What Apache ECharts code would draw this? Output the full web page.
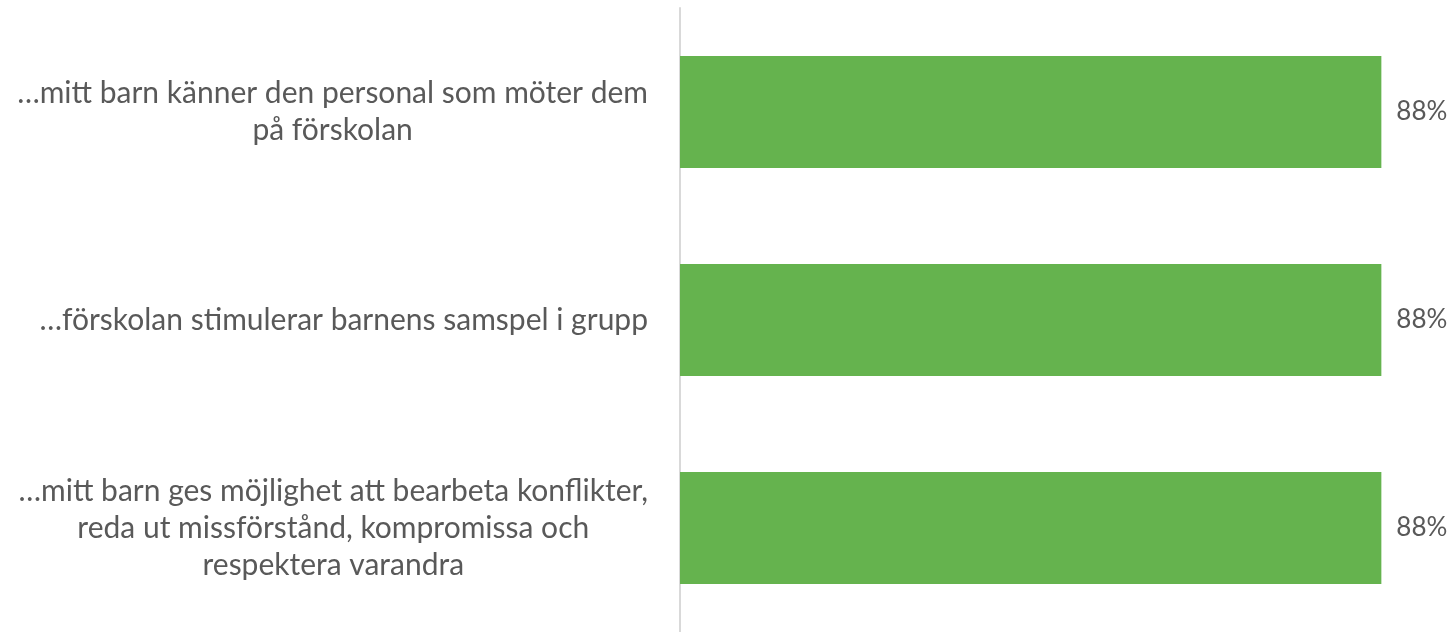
<!DOCTYPE html>
<html>
<head>
<meta charset="utf-8">
<script src="https://cdn.jsdelivr.net/npm/echarts@6/dist/echarts.min.js"></script>
<style>
  html, body { margin: 0; padding: 0; background: #fff; }
  #main { width: 1455px; height: 632px; }
</style>
</head>
<body>
<div id="main"></div>
<script>
// kategorier (uppifrån och ned)
const categories = [
  '…mitt barn känner den personal som möter dem\npå förskolan',
  '…förskolan stimulerar barnens samspel i grupp',
  '…mitt barn ges möjlighet att bearbeta konflikter,\nreda ut missförstånd, kompromissa och\nrespektera varandra'
]
// andel som instämmer
const values = [0.88, 0.88, 0.88]

const chart = echarts.init(document.getElementById('main'))

const option = {
  animation: false,
  grid: {
    left: 680,
    top: 8,
    bottom: 0,
    right: -22,
    outerBoundsMode: 'none',
    containLabel: false
  },
  xAxis: {
    type: 'value',
    min: 0,
    max: 1,
    show: false
  },
  yAxis: {
    type: 'category',
    data: categories,
    inverse: true,
    axisLine: { show: true, lineStyle: { color: '#d9d9d9', width: 2 } },
    axisTick: { show: false },
    axisLabel: {
      margin: 32,
      align: 'right',
      color: '#595959',
      fontFamily: 'Lato',
      fontSize: 30,
      lineHeight: 37,
      formatter: function (v) {
        return v.split('\n').map(l => '{c|' + l + '}').join('\n')
      },
      rich: {
        c: { align: 'center', fontFamily: 'Lato', fontSize: 30, lineHeight: 37, color: '#595959' }
      }
    }
  },
  series: [
    {
      type: 'bar',
      data: values,
      barWidth: 112,
      itemStyle: { color: '#65b34e' },
      label: {
        show: true,
        position: 'right',
        distance: 15,
        color: '#595959',
        fontFamily: 'Lato',
        fontSize: 26,
        formatter: p => Math.round(p.value * 100) + '%'
      }
    }
  ]
}

chart.setOption(option)
</script>
</body>
</html>
